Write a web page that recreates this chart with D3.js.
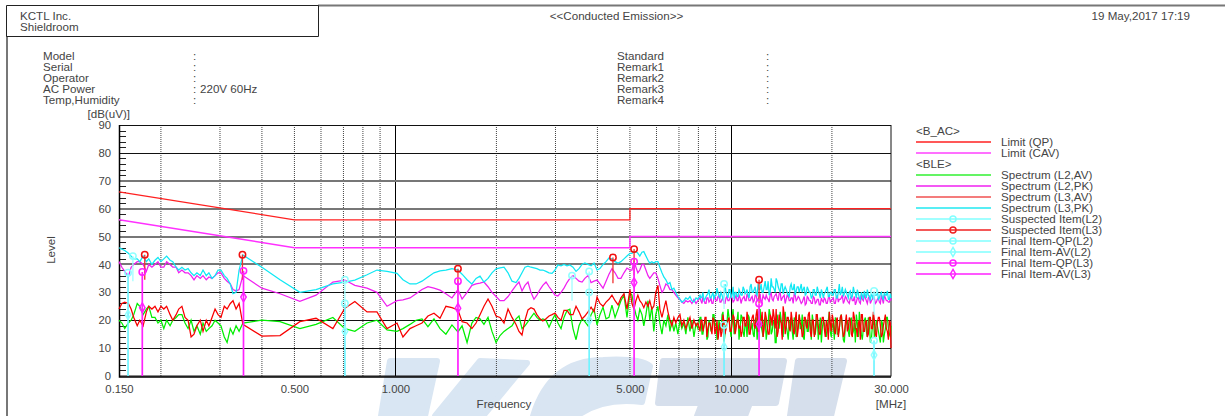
<!DOCTYPE html>
<html><head><meta charset="utf-8">
<script src="https://cdn.jsdelivr.net/npm/d3@7"></script>
<style>
html,body{margin:0;padding:0;background:#fff;overflow:hidden}
text{font-family:"Liberation Sans",Arial,sans-serif;font-size:11.6px;fill:#444}
</style></head><body><svg id="c" width="1225" height="416"></svg>
<script>
const limitFreq=[0.15,0.5,5,5,30];
const limitQP=[66,56,56,60,60];
const limitCAV=[56,46,46,50,50];

const sweepLow=[0.150,0.153,0.156,0.160,0.163,0.166,0.170,0.173,0.177,0.181,0.184,0.188,0.192,0.196,0.200,0.204,0.208,0.213,0.217,0.222,0.226,0.231,0.236,0.241,0.246,0.251,0.256,0.262,0.267,0.273,0.278,0.284,0.290,0.296,0.302,0.309,0.315,0.322,0.328,0.335,0.342];
const sweepMid=[0.351,0.400,0.453,0.519,0.580,0.651,0.707,0.757,0.823,0.881,0.944,1.011,1.053,1.105,1.152,1.2,1.25,1.303,1.358,1.414,1.474,1.536,1.58,1.635,1.69,1.739,1.787,1.836,1.888,1.94,1.995,2.05,2.107,2.166,2.226,2.288,2.335,2.384,2.433,2.484,2.535,2.588,2.64,2.697,2.75,2.811,2.87,2.93,2.99,3.05,3.116,3.18,3.247,3.31,3.383,3.454,3.525,3.6,3.67,3.75,3.83,3.908,3.99,4.07,4.157,4.244,4.33,4.42,4.515,4.61,4.7,4.8,4.9,5.0];
const sweepHigh=[5.07,5.14,5.21,5.28,5.35,5.43,5.50,5.58,5.66,5.73,5.81,5.89,5.97,6.06,6.14,6.23,6.31,6.40,6.49,6.58,6.67,6.76,6.85,6.95,7.05,7.14,7.24,7.34,7.44,7.55,7.65,7.76,7.87,7.97,8.09,8.20,8.31,8.43,8.54,8.66,8.78,8.90,9.03,9.15,9.28,9.41,9.54,9.67,9.80,9.94,10.08,10.22,10.36,10.50,10.65,10.80,10.95,11.10,11.25,11.41,11.57,11.73,11.89,12.05,12.22,12.39,12.56,12.74,12.91,13.09,13.27,13.46,13.64,13.83,14.02,14.22,14.41,14.61,14.82,15.02,15.23,15.44,15.65,15.87,16.09,16.31,16.54,16.77,17.00,17.24,17.48,17.72,17.96,18.21,18.47,18.72,18.98,19.24,19.51,19.78,20.05,20.33,20.61,20.90,21.19,21.48,21.78,22.08,22.38,22.69,23.01,23.33,23.65,23.98,24.31,24.64,24.99,25.33,25.68,26.04,26.40,26.76,27.13,27.51,27.89,28.28,28.67,29.06,29.47,29.88,30];
const sweepFreq=[...sweepLow,...sweepMid,...sweepHigh];

const l3PK=[46,45.5,45,44,43,42,42,41,43,41,42,40,41.5,42.5,41,42,43,41.5,41,39,38,39,38,38.5,37,36,37,36,38,36,37,35,36,38,38,36,35,33,29.5,30,38,
43.4,39,34.5,30,31,33,33.7,34.4,36.3,38,37.5,36.8,34.5,33,33,34,35.5,37,37.7,38,38.5,38,36.5,34.5,33,35,35.8,33.7,35,37,38.4,38.8,39,37,34,33.5,35,37,39,39.4,39,38.8,38.5,38,38,37.5,37,36.8,38,39.8,39.5,40,39.5,39.8,39,37.5,38.5,40,40.5,40,39.5,40.5,38,38.5,40,41,42.3,42,41,40.5,41,42,43,44,
44,44.5,44.6,44,43,44.4,44.6,43,41.5,40.5,41,40.5,41,41,39,37,35.5,34.5,33,33.5,31,31.5,30,28.5,27.5,26.5,27,28,27.5,28.5,27,26.5,28,27.5,29,28.5,27,28.5,29.5,28,29,27.5,29,30,28,29,28.5,30,28,31,29,27.5,30,28.5,30,29,31,30,29,32,30,31,29.5,33,31,30,32,31,34,30,32,31,35,32,30,33,31,31,29,32,31,33,30.5,32,31.5,30,32,29.5,31,30,28.5,31,29,30.5,28,30,29.5,31,28.5,30,29,31,28,30,29,32,29.5,30,28,30.5,28.5,30,28,29.5,27.5,29,30.5,28,29,27,28.5,30,29,27.5,29.5,28,30,29,27.5,29.5,28];
const l2PK=[41,39,37.5,35.5,39,40,41,41,40,37.5,40,39,40,41,39,39,41,40,39,39,37,38,37,37,36,34.5,36,35,36,34.5,35.5,35,36,37,37,35,34,33,31,30.5,31,
36,31.5,29.5,26.8,29,33.7,34.4,32.5,31.5,30,25,27,27.3,28,29.5,31,32,31.5,30.8,29.5,28,31,27.6,30,32.5,33,33.3,33.7,32,30,28.5,27,27,28.5,30.5,32.5,33.7,30.5,32.5,33.7,30,27.5,29,31,32.5,33.7,32,30.5,29,28.7,30,31.5,33.5,35,36,35,34,33.7,35,36,33.5,34,34.4,33,31.5,34,36.5,38.5,37,35,35,37,38.7,38,
38,41,39,37,38,40,40,38,36,35,36,37,37,35,32.5,30,31,33,32.5,31,31,30,29,28,27.5,26.5,26,27,26.5,27,26,27.5,26,27,28,26,27.5,26,28,27,26,28,27,28.5,26.5,27.5,26,28,27,28,28,27,29,27,28,27.5,28.5,27,28.5,27,28.5,27,29,27.5,29.5,27,28,29,27.5,29,27.5,28.5,29.5,27,30,28,29,27.5,28.5,27,28,29.5,27,28.5,27,26.5,28.5,26,28,27,26,28,26.5,27.5,25.5,27,28,26,28,26.5,27.5,26,28,26.5,27.5,29,27,28,26.5,28,27,28.5,26.5,28,26,27.5,29,27,28,26,27.5,28,26.5,28,26,27.5,29,27,26.5,28,27];
const l3AV=[24,26,26.5,26,24,21,18,20,18,23,25,24,25,23,25,24,25,22,20,22,24,25,21,20,14,15,18,20,16,20,18,21,24,22,21,25,24,26,27,24,26,
18.5,14.3,14.5,19.5,20.7,17,24.3,26.7,23,23,17,19,14,17,18,19,21.5,22.5,20.7,25,24.5,23.7,19.5,19,17,19,22,25,27.6,25,21.5,21,19,24,21,18.5,16,14.7,20,23.7,24.5,24,22,20.5,19.7,20.5,21.5,22,22.6,21,20,23.5,23.5,22,22,25,23,20.5,21.5,23,24.7,23,28.3,26,25,26.5,27.5,29,27,25.5,28,29.5,24,31,
26,24,27,29,27,26,24.5,26.5,25,27,24,25,30,32.5,24,21,24,27,23,20,18,21,19,21,22,18,20,17,19,21,17,20,18,19,16,20,18,21,17,19,15,20,17,13,19,16,19,17,20,16,19,21,17,20,18,16,21,18,20,15,21,18,22,16,20,23,17,21,15,22,18,21,24,16,20,13,22,18,21,16,20,15,23,17,19,14,21,18,22,16,20,14,22,18,15,21,17,20,13,19,22,16,20,14,21,18,15,22,17,20,14,21,17,19,13,22,16,20,15,21,17,20,14,21,18,15,20,17,13,19,10];
const l2AV=[20,19,17,19,20,22,26,25,22,24,25,21,21,19,20,17,20,18,20,21,22,22,19,17,20,16,18,15,19,16,17,18,20,19,18,14,12,17,15,18,16,
19,20,19.5,17,18.5,21,17,16,19,20,16.5,16,17,18.5,20,20.5,17.7,20.5,17,15,18.3,15.8,18,12,19,21,20.5,18.5,21,16,12,14.5,16,17,18,20.5,21.5,17,18,19.5,21,22.5,21,20,20.5,20,17.5,20,22,19,17,21,23.5,24,17,13,18,20.5,19.5,18,22,24,18.3,22,24.7,20.5,21,25.4,21,24,27,29,21,29.8,
29,25,22,20,24,22,18,22,27,20,25,16,22,25,19,15,20,18,22,16,20,16,19,15,20,17,19,15,21,16,20,14,19,17,21,15,18,20,14,19,17,22,19,14,18,22,12,18,24,17,21,15,19,23,17,21,14,18,22,16,19,14,21,17,24,16,20,13,19,22,16,20,12,19,23,15,21,18,13,20,16,21,14,19,17,22,13,20,16,19,22,15,18,13,21,17,19,14,20,16,18,13,20,15,21,17,12,19,16,20,15,19,22,14,18,13,20,16,21,12,18,14,20,16,12,19,15,21,17,14,18];

// finer samples above 8 MHz, where the traces are densely packed
const fineFreq=[8.14,8.25,8.37,8.48,8.60,8.72,8.84,8.96,9.09,9.21,9.34,9.47,9.60,9.73,9.87,10.01,10.15,10.29,10.43,10.57,10.72,10.87,11.02,11.17,11.33,11.49,11.65,11.81,11.97,12.13,12.30,12.47,12.65,12.82,13.00,13.18,13.36,13.55,13.73,13.92,14.12,14.31,14.51,14.71,14.92,15.12,15.33,15.54,15.76,15.98,16.20,16.42,16.65,16.88,17.12,17.36,17.60,17.84,18.08,18.34,18.60,18.85,19.11,19.37,19.64,19.91,20.19,20.47,20.75,21.04,21.33,21.63,21.93,22.23,22.53,22.85,23.17,23.49,23.81,24.14,24.47,24.81,25.16,25.50,25.86,26.22,26.58,26.94,27.32,27.70,28.08,28.47,28.86,29.26,29.67];
const fineL3AV=[20,16,21,14,19,17,21,15,20,16,14,22,15,19,21,16,22,15,20,17,14,21,18,23,15,19,22,17,24,16,20,14,23,18,15,21,24,17,14,22,19,25,15,21,17,23,16,20,14,22,18,15,21,17,23,14,20,16,22,15,19,21,14,18,23,16,20,15,21,17,22,14,19,16,21,15,23,17,14,20,22,16,19,14,21,17,23,15,19,21,14,18,22,16,20];
const fineL2AV=[21,15,19,13,20,16,22,18,13,20,16,23,15,19,21,14,24,17,20,13,22,16,19,14,21,17,15,20,13,23,18,14,21,16,24,15,19,12,22,17,20,14,23,16,19,21,13,18,15,22,17,14,20,16,21,13,19,15,22,17,12,20,16,18,23,14,19,21,15,17,22,13,18,20,14,21,16,12,19,23,15,17,21,14,19,13,22,16,18,14,20,12,17,21,15];
const fineL3PK=[28,30,27.5,29,31,28,30,29,31.5,28.5,30,27.5,33,29,31,28,32,30,28.5,31,29,32,29.5,31,28,33,30,32,29,31,33,30,34,31,29,35,32,30,34,31,33,29.5,32,30,28.5,33,31,29,32,30,33,31,29,32,30,28,31,29,32,29.5,31,28,30,32,28.5,30,29,31,28,33,30,28.5,31,29,30,28,32,29.5,31,28,30,27.5,29,31,28.5,30,27.5,29,31,28,30,27.5,29,30.5,27.5];
const fineL2PK=[27,28.5,26,28,26.5,28,26,28.5,27,29,26.5,28,26,28.5,27,29,26.5,28,27,29,26,28,27,29.5,27,28,26.5,29,27,28.5,26,29,27.5,28,26.5,30,27,29,28,29.5,27,28.5,26,29,27,28,26,29,27.5,28,26,27.5,25.5,28.5,27,26,28.5,26,27.5,25.5,28,26.5,27.5,26,28.5,27,28,26,29,27.5,28,26,28.5,27,26,28.5,27,25.5,28,26.5,29,27,28,26,28.5,27,29,26,27.5,26.5,29,26,28,27,26.5];

const merge=(f,v,xf,xv)=>{const p=f.map((d,i)=>[d,v[i]]).concat(xf.map((d,i)=>[d,xv[i]]));return p.sort((a,b)=>a[0]-b[0]);};

const suspectedL2Freq=[0.165,0.707,3.36,3.78,9.54,26.7];
const suspectedL2Val=[43,34.5,36,37.5,33,30.5];
const suspectedL2Foot=[34,26,27,30,24,22];
const suspectedL3Freq=[0.179,0.35,1.536,4.45,5.145,12.13];
const suspectedL3Val=[43.5,43.5,38.5,42.5,45.5,34.5];
const suspectedL3Foot=[34.5,34.5,30,33.3,36,26];
const finalL2Freq=[0.1596,0.707,3.78,9.54,26.7];
const finalQPL2=[37,26,30,18.3,12.7];
const finalAVL2=[22,16,20,10.4,7.5];
const finalL3Freq=[0.176,0.3525,1.536,5.145,12.13];
const finalQPL3=[37.3,37.7,34,41,26];
const finalAVL3=[24.5,28.3,24.3,33.5,18.6];

const yTicks=[0,10,20,30,40,50,60,70,80,90];
const yGrayRows=[40,50,60,70];
const yMinor=[2,4,6,8,12,14,16,18,22,24,26,28,32,34,36,38,42,44,46,48,52,54,56,58,62,64,66,68,72,74,76,78,82,84,86,88];
const xMajorGrid=[1,10];
const xMinorGrid=[0.2,0.3,0.4,0.5,0.6,0.7,0.8,0.9,2,3,4,5,6,7,8,9,20];
const xTickLabels=[0.15,0.5,1,5,10,30];
const infoLeft=["Model","Serial","Operator","AC Power","Temp,Humidity"];
const infoLeftVal=["","","","220V 60Hz",""];
const infoRight=["Standard","Remark1","Remark2","Remark3","Remark4"];
const legendRows=[
 {t:"<B_AC>",head:1},
 {t:"Limit (QP)",c:"#ff2020"},{t:"Limit (CAV)",c:"#ff40ff"},
 {t:"<BLE>",head:1},
 {t:"Spectrum (L2,AV)",c:"#30f030"},{t:"Spectrum (L2,PK)",c:"#f020f0"},{t:"Spectrum (L3,AV)",c:"#f05050"},{t:"Spectrum (L3,PK)",c:"#20e8f0"},
 {t:"Suspected Item(L2)",c:"#80ffff",m:"o"},{t:"Suspected Item(L3)",c:"#f02020",m:"o"},
 {t:"Final Item-QP(L2)",c:"#80ffff",m:"o"},{t:"Final Item-AV(L2)",c:"#80ffff",m:"d"},
 {t:"Final Item-QP(L3)",c:"#ff20ff",m:"o"},{t:"Final Item-AV(L3)",c:"#ff20ff",m:"d"}];

const svg=d3.select("#c");
const x=d3.scaleLog().domain([0.15,30]).range([119,891]);
const y=d3.scaleLinear().domain([0,90]).range([376,125]);

// watermark
const wm=svg.append("g").attr("stroke-linejoin","round").attr("stroke-width",6);
[["M390,361L437,361L425,416L381,416Z","#d9e6f3"],
 ["M480,361L527,363L483,416L435,416Z","#d9e6f3"],
 ["M533,416Q550,360 603,360Q640,358 650,366L642,402Q603,397 577,416Z","#d9e5f2"],
 ["M663,361L784,361L776,403L750,403L745,416L697,416L702,403L658,403Z","#d6dfec"],
 ["M798,361L844,361L831,416L790,416Z","#d6dfec"]]
 .forEach(([d,c])=>wm.append("path").attr("d",d).attr("fill",c).attr("stroke",c));

// frame
const fr=svg.append("g").attr("fill","none");
fr.append("path").attr("d","M7,36V416").attr("stroke","#777").attr("stroke-width",2);
fr.append("path").attr("d","M318,5.5H1225").attr("stroke","#777").attr("stroke-width",2);
fr.append("path").attr("d","M6.5,36.5V5.5H318.5V36.5H6.5").attr("stroke","#222");

// header texts
const T=(tx,ty,s,a)=>svg.append("text").attr("x",tx).attr("y",ty).attr("text-anchor",a||"start").text(s);
T(20,20,"KCTL Inc.");T(20,31,"Shieldroom");
T(616.5,20,"<<Conducted Emission>>","middle");
T(1190,20,"19 May,2017 17:19","end");
const rowY=d3.scalePoint().domain(d3.range(5)).range([60,104]);
infoLeft.forEach((s,i)=>{T(43,rowY(i),s);T(193,rowY(i),":");if(infoLeftVal[i])T(200,rowY(i),infoLeftVal[i]);});
infoRight.forEach((s,i)=>{T(617,rowY(i),s);T(766,rowY(i),":");});

// grid
const g=svg.append("g");
g.selectAll(".vm").data(xMinorGrid).join("line").attr("x1",d=>x(d)).attr("x2",d=>x(d)).attr("y1",125).attr("y2",376)
 .attr("stroke","#444").attr("stroke-dasharray","1,1");
g.selectAll(".vM").data(xMajorGrid).join("line").attr("x1",d=>Math.round(x(d))+.5).attr("x2",d=>Math.round(x(d))+.5).attr("y1",125).attr("y2",376).attr("stroke","#000");
g.selectAll(".h").data(yTicks.filter(d=>d>0&&d<90)).join("line").attr("x1",119).attr("x2",891)
 .attr("y1",d=>yGrayRows.includes(d)?Math.round(y(d)):Math.round(y(d))+.5)
 .attr("y2",d=>yGrayRows.includes(d)?Math.round(y(d)):Math.round(y(d))+.5)
 .attr("stroke",d=>yGrayRows.includes(d)?"#777":"#111").attr("stroke-width",d=>yGrayRows.includes(d)?2:1);
g.selectAll(".mt").data(yMinor).join("line").attr("x1",119).attr("x2",126).attr("y1",d=>Math.round(y(d))+.5).attr("y2",d=>Math.round(y(d))+.5).attr("stroke","#222");

// axes
const ya=d3.axisLeft(y).tickValues(yTicks).tickSize(0).tickPadding(8);
const yg=svg.append("g").attr("transform","translate(119,0)").call(ya);
const xa=d3.axisBottom(x).tickValues(xTickLabels).tickSize(0).tickPadding(9).tickFormat(d3.format(".3f"));
const xg=svg.append("g").attr("transform","translate(0,376)").call(xa);
[yg,xg].forEach(a=>{a.select(".domain").remove();a.selectAll("text").style("font-size","11.3px").attr("fill",null);});
svg.append("rect").attr("x",119.5).attr("y",125.5).attr("width",771.5).attr("height",250.5).attr("fill","none").attr("stroke","#111");
svg.append("path").attr("d","M119.5,125V377H891").attr("fill","none").attr("stroke","#000").attr("stroke-width",1.5);
T(130,118,"[dB(uV)]","end");
T(504,408,"Frequency","middle");
T(891,408,"[MHz]","middle");
svg.append("text").attr("transform","translate(55,250) rotate(-90)").attr("text-anchor","middle").text("Level");

// traces
const line=(xs,ys)=>d3.line().x((d,i)=>x(xs[i])).y(d=>y(d))(ys);
const lineP=d3.line().x(d=>x(d[0])).y(d=>y(d[1]));
const P=svg.append("g").attr("fill","none");
P.append("path").attr("d",line(limitFreq,limitQP)).attr("stroke","#ff2020").attr("stroke-width",1.3);
P.append("path").attr("d",line(limitFreq,limitCAV)).attr("stroke","#ff30ff").attr("stroke-width",1.5);
[[l2AV,fineL2AV,"#00ee00"],[l2PK,fineL2PK,"#f020f0"],[l3AV,fineL3AV,"#f80000"],[l3PK,fineL3PK,"#10e8f4"]].forEach(([v,xv,c])=>
 P.append("path").attr("d",lineP(merge(sweepFreq,v,fineFreq,xv))).attr("stroke",c).attr("stroke-width",1.25));

// stems + markers
const stems=(fs,top,bot,c,w)=>svg.append("g").selectAll("line").data(fs).join("line")
 .attr("x1",d=>x(d)).attr("x2",d=>x(d)).attr("y1",(d,i)=>y(top[i])).attr("y2",(d,i)=>y(bot?bot[i]:0)).attr("stroke",c).attr("stroke-width",w);
const circ=(fs,v,c,r)=>svg.append("g").selectAll("circle").data(fs).join("circle")
 .attr("cx",d=>x(d)).attr("cy",(d,i)=>y(v[i])).attr("r",r||3.2).attr("fill","none").attr("stroke",c).attr("stroke-width",1.5);
const dia=(fs,v,c)=>svg.append("g").selectAll("path").data(fs).join("path")
 .attr("transform",(d,i)=>`translate(${x(d)},${y(v[i])})`).attr("d",d3.symbol(d3.symbolDiamond,26)).attr("fill","none").attr("stroke",c).attr("stroke-width",1.5);
stems(suspectedL2Freq,suspectedL2Val,suspectedL2Foot,"#a0ffff",1.3);
stems(finalL2Freq,finalQPL2,null,"#70f4ff",1.7);
stems(suspectedL3Freq,suspectedL3Val,suspectedL3Foot,"#f03030",1.3);
stems(finalL3Freq,finalQPL3,null,"#ff20ff",1.7);
circ(suspectedL2Freq,suspectedL2Val,"#90ffff");
circ(finalL2Freq,finalQPL2,"#90ffff");
dia(finalL2Freq,finalAVL2,"#90ffff");
circ(finalL3Freq,finalQPL3,"#ff20ff");
dia(finalL3Freq,finalAVL3,"#ff20ff");
circ(suspectedL3Freq,suspectedL3Val,"#f01010");

// legend
const ly=d3.scaleLinear().domain([0,13]).range([131,274]);
legendRows.forEach((r,i)=>{
  const yy=Math.round(ly(i));
  if(r.head){T(916,yy+4,r.t);return;}
  svg.append("line").attr("x1",916).attr("x2",991).attr("y1",yy).attr("y2",yy).attr("stroke",r.c).attr("stroke-width",1.5);
  T(1001,yy+4,r.t);
  if(r.m=="o")circ([0],[0],r.c,3).attr("cx",953).attr("cy",yy);
  if(r.m=="d")svg.append("path").attr("transform",`translate(953,${yy})`).attr("d",d3.symbol(d3.symbolDiamond,24)).attr("fill","none").attr("stroke",r.c).attr("stroke-width",1.5);
});
</script></body></html>
